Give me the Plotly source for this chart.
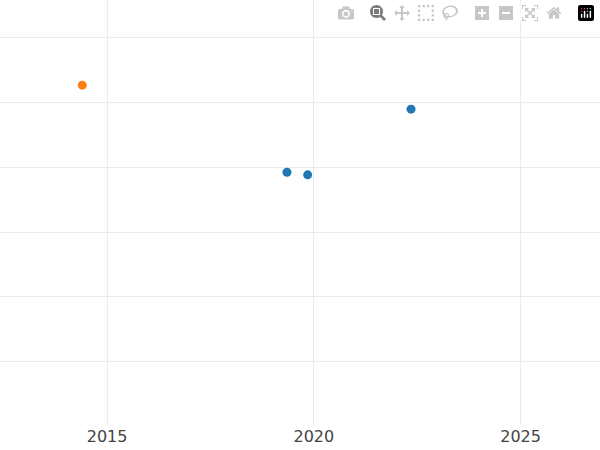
import plotly.graph_objects as go

years_blue = [2019.35, 2019.85, 2022.35]
vals_blue = [2.92, 2.88, 3.89]
years_orange = [2014.4]
vals_orange = [4.26]

fig = go.Figure()
fig.add_trace(go.Scatter(x=years_blue, y=vals_blue, mode="markers",
                         marker=dict(color="#1f77b4", size=9)))
fig.add_trace(go.Scatter(x=years_orange, y=vals_orange, mode="markers",
                         marker=dict(color="#ff7f0e", size=9)))
fig.update_layout(
    width=600, height=450, showlegend=False,
    paper_bgcolor="white", plot_bgcolor="white",
    margin=dict(l=0, r=0, t=0, b=25, pad=0),
    xaxis=dict(range=[2012.41, 2026.92], tickvals=[2015, 2020, 2025],
               gridcolor="#ebebeb", zeroline=False,
               tickfont=dict(family="DejaVu Sans", size=16, color="#444")),
    yaxis=dict(range=[-0.97, 5.57], tickvals=[0, 1, 2, 3, 4, 5],
               showticklabels=False, gridcolor="#ebebeb", zeroline=False),
)
fig.write_html("out.html", post_script="document.body.style.margin='0';document.body.style.overflow='hidden';")
